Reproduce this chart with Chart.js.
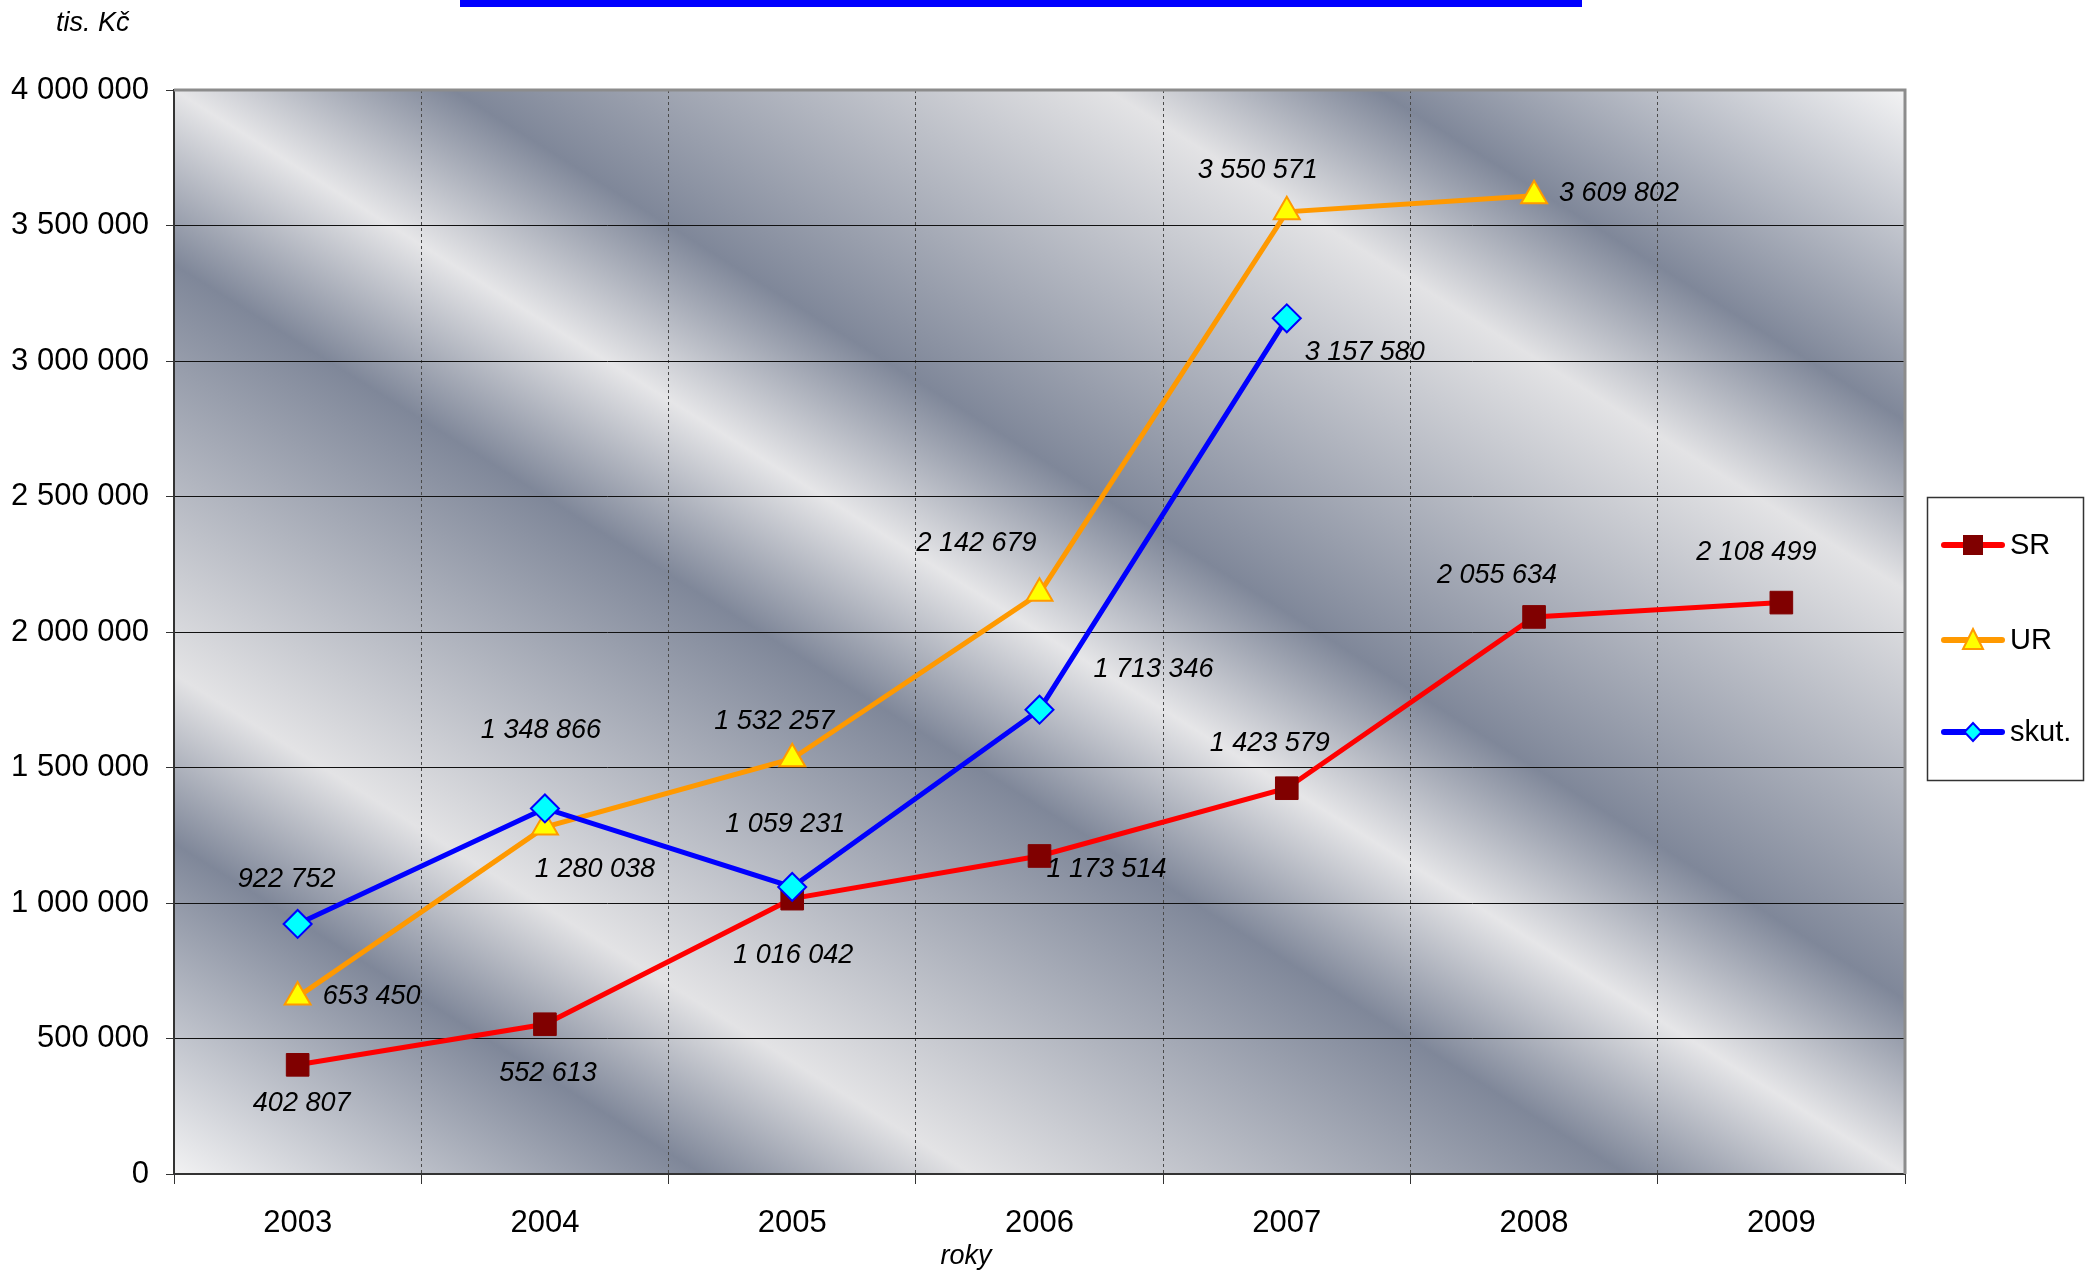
<!DOCTYPE html>
<html lang="cs">
<head>
<meta charset="UTF-8">
<title>SR / UR / skut.</title>
<script src="https://cdn.jsdelivr.net/npm/chart.js@4.4.1/dist/chart.umd.min.js"></script>
<style>
  html, body { margin: 0; padding: 0; background: #fff; }
  canvas { display: block; }
</style>
</head>
<body>
<canvas id="chart" width="2096" height="1271"></canvas>
<script>
// data
const years = ['2003', '2004', '2005', '2006', '2007', '2008', '2009'];
const srValues = [402807, 552613, 1016042, 1173514, 1423579, 2055634, 2108499];
const urValues = [653450, 1280038, 1532257, 2142679, 3550571, 3609802, null];
const skutValues = [922752, 1348866, 1059231, 1713346, 3157580, null, null];
const yMax = 4000000;
const yStep = 500000;

// where each value label sits relative to its point (px)
const srLabelOffsets = [[4, 39], [3, 49], [1, 57], [67, 14], [-17, -45], [-37, -41], [-25, -50]];
const urLabelOffsets = [[74, 0], [50, 42], [-18, -37], [-63, -50], [-29, -41], [85, -2]];
const skutLabelOffsets = [[-11, -44], [-4, -78], [-7, -62], [114, -40], [78, 34]];
const labelOffsets = [srLabelOffsets, urLabelOffsets, skutLabelOffsets];

const FONT = '"Liberation Sans", Arial, sans-serif';

// mezery mezi tisíci: 1 016 042
function fmt(v) {
    return String(v).replace(/\B(?=(\d{3})+(?!\d))/g, ' ');
}

// chrome-like diagonal bands, mirrored about the plot diagonal
const bandStops = [
    [-1, '#f3f3f4'], [-0.695, '#7f8799'], [-0.539, '#e3e3e5'], [-0.161, '#7f8799'],
    [0, '#e6e6e8'], [0.161, '#7f8799'], [0.539, '#e3e3e5'], [0.695, '#7f8799'], [1, '#f2f2f3']
];

const backdrop = {
    id: 'backdrop',
    beforeDraw(chart) {
        const { ctx, chartArea: a } = chart;
        const W = a.right - a.left, H = a.bottom - a.top;
        const cx = a.left + W / 2, cy = a.top + H / 2;
        const t = 1 / (W / H + H / W);
        const g = ctx.createLinearGradient(cx + t * H, cy - t * W, cx - t * H, cy + t * W);
        bandStops.forEach(s => g.addColorStop((s[0] + 1) / 2, s[1]));
        ctx.save();
        ctx.fillStyle = '#fff';
        ctx.fillRect(0, 0, chart.width, chart.height);
        ctx.fillStyle = g;
        ctx.fillRect(a.left, a.top, W, H);
        // modrý pruh nahoře (oříznutý nadpis)
        ctx.fillStyle = '#0000ff';
        ctx.fillRect(460, 0, 1122, 7);
        ctx.restore();
    }
};

const valueLabels = {
    id: 'valueLabels',
    afterDatasetsDraw(chart) {
        const ctx = chart.ctx;
        ctx.save();
        ctx.font = 'italic 27px ' + FONT;
        ctx.fillStyle = '#000';
        ctx.textAlign = 'center';
        ctx.textBaseline = 'middle';
        chart.data.datasets.forEach((ds, i) => {
            const meta = chart.getDatasetMeta(i);
            meta.data.forEach((pt, j) => {
                const v = ds.data[j];
                if (v == null) return;
                const off = labelOffsets[i][j];
                ctx.fillText(fmt(v), pt.x + off[0], pt.y + off[1]);
            });
        });
        ctx.restore();
    }
};

function drawMarker(ctx, kind, x, y) {
    ctx.beginPath();
    if (kind === 'rect') {
        ctx.rect(x - 10, y - 10, 20, 20);
        ctx.fillStyle = '#800000';
        ctx.fill();
        return;
    }
    if (kind === 'triangle') {
        ctx.moveTo(x, y - 11);
        ctx.lineTo(x + 10, y + 9);
        ctx.lineTo(x - 10, y + 9);
        ctx.closePath();
        ctx.fillStyle = '#ffff00';
        ctx.strokeStyle = '#ff9900';
    } else {
        ctx.moveTo(x, y - 9);
        ctx.lineTo(x + 8.5, y);
        ctx.lineTo(x, y + 9);
        ctx.lineTo(x - 8.5, y);
        ctx.closePath();
        ctx.fillStyle = '#00ffff';
        ctx.strokeStyle = '#0000ff';
    }
    ctx.lineWidth = 2;
    ctx.fill();
    ctx.stroke();
}

const frame = {
    id: 'frame',
    afterDraw(chart) {
        const { ctx, chartArea: a } = chart;
        ctx.save();
        // horní a pravý okraj zóny grafu
        ctx.strokeStyle = '#8c8c8c';
        ctx.lineWidth = 3;
        ctx.beginPath();
        ctx.moveTo(a.left, a.top);
        ctx.lineTo(a.right, a.top);
        ctx.lineTo(a.right, a.bottom);
        ctx.stroke();

        // popisky os
        ctx.fillStyle = '#000';
        ctx.font = 'italic 27px ' + FONT;
        ctx.textBaseline = 'middle';
        ctx.textAlign = 'left';
        ctx.fillText('tis. Kč', 56, 23);
        ctx.textAlign = 'center';
        ctx.fillText('roky', 966, 1256);

        // legenda
        ctx.fillStyle = '#fff';
        ctx.fillRect(1927, 497, 156, 283);
        ctx.strokeStyle = '#333';
        ctx.lineWidth = 1.5;
        ctx.strokeRect(1927.5, 497.5, 156, 283);
        const items = chart.data.datasets.map((ds, i) => ({
            text: ds.label, color: ds.borderColor, kind: ds.pointStyle, y: [545, 640, 732][i]
        }));
        items.forEach(it => {
            ctx.beginPath();
            ctx.strokeStyle = it.color;
            ctx.lineWidth = 6;
            ctx.lineCap = 'round';
            ctx.moveTo(1944, it.y);
            ctx.lineTo(2002, it.y);
            ctx.stroke();
            drawMarker(ctx, it.kind, 1973, it.y);
            ctx.fillStyle = '#000';
            ctx.font = '29px ' + FONT;
            ctx.textAlign = 'left';
            ctx.textBaseline = 'middle';
            ctx.fillText(it.text, 2010, it.y + 1);
        });
        ctx.restore();
    }
};

const ctx = document.getElementById('chart').getContext('2d');
new Chart(ctx, {
    type: 'line',
    data: {
        labels: years,
        datasets: [
            {
                label: 'SR',
                data: srValues,
                borderColor: '#ff0000',
                borderWidth: 5,
                pointStyle: 'rect',
                pointRadius: 16,
                pointBackgroundColor: '#800000',
                pointBorderColor: '#800000',
                pointBorderWidth: 1,
                order: 3
            },
            {
                label: 'UR',
                data: urValues,
                borderColor: '#ff9900',
                borderWidth: 5,
                pointStyle: 'triangle',
                pointRadius: 15,
                pointBackgroundColor: '#ffff00',
                pointBorderColor: '#ff9900',
                pointBorderWidth: 2,
                order: 2
            },
            {
                label: 'skut.',
                data: skutValues,
                borderColor: '#0000ff',
                borderWidth: 5,
                pointStyle: 'rectRot',
                pointRadius: 14,
                pointBackgroundColor: '#00ffff',
                pointBorderColor: '#0000ff',
                pointBorderWidth: 2,
                order: 1
            }
        ]
    },
    options: {
        responsive: false,
        devicePixelRatio: 1,
        animation: false,
        events: [],
        layout: { padding: { left: 0, top: 90, right: 191, bottom: 0 } },
        elements: { line: { tension: 0 } },
        scales: {
            x: {
                offset: true,
                grid: {
                    offset: true,
                    color: '#4a4a4a',
                    lineWidth: 1,
                    tickLength: 10,
                    tickColor: '#333',
                    tickBorderDash: []
                },
                border: { display: true, color: '#333', width: 2, dash: [3, 3] },
                ticks: {
                    color: '#000',
                    font: { family: FONT, size: 31 },
                    padding: 21,
                    maxRotation: 0
                },
                afterFit(scale) { scale.height = 97; }
            },
            y: {
                min: 0,
                max: yMax,
                grid: {
                    color: '#111',
                    lineWidth: 1,
                    tickLength: 8,
                    tickColor: '#333'
                },
                border: { display: true, color: '#333', width: 2 },
                ticks: {
                    stepSize: yStep,
                    color: '#000',
                    font: { family: FONT, size: 31 },
                    padding: 17,
                    callback: v => fmt(v)
                },
                afterFit(scale) { scale.width = 174; }
            }
        },
        plugins: {
            legend: { display: false },
            tooltip: { enabled: false },
            title: { display: false }
        }
    },
    plugins: [backdrop, valueLabels, frame]
});
</script>
</body>
</html>
